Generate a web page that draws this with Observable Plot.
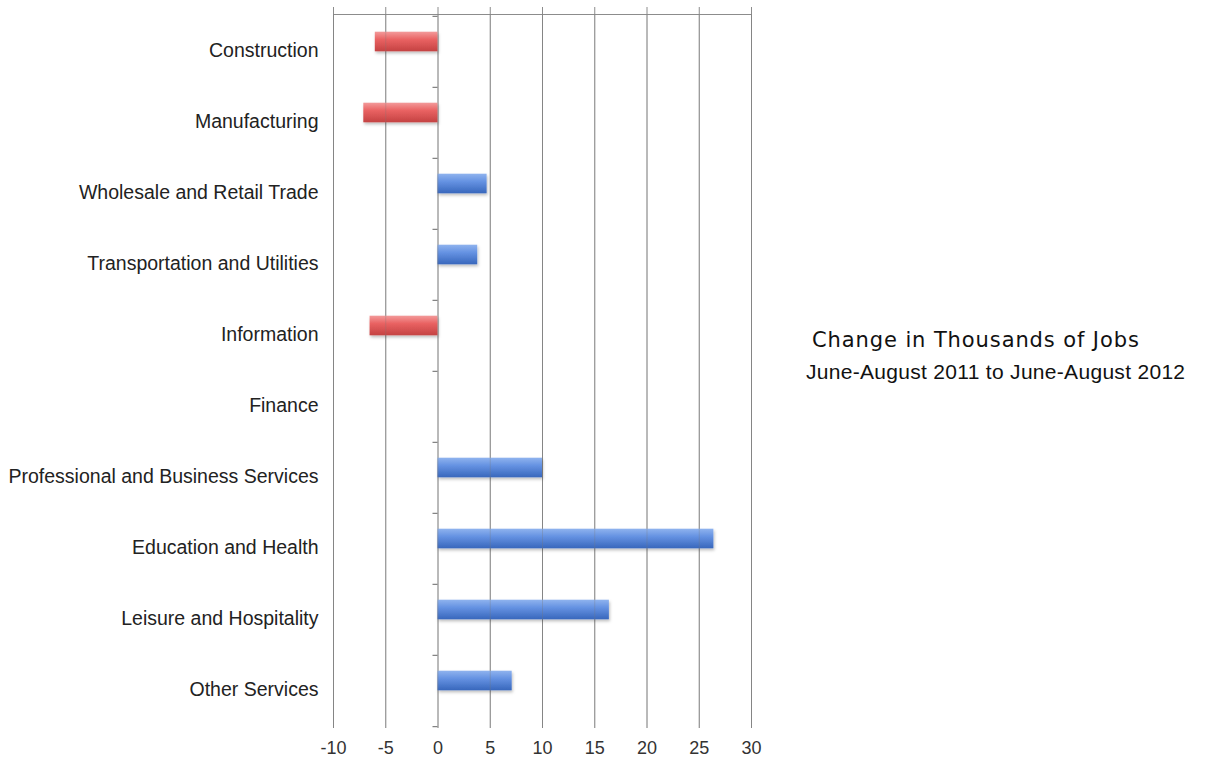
<!DOCTYPE html>
<html>
<head>
<meta charset="utf-8">
<script src="https://cdn.jsdelivr.net/npm/d3@7"></script>
<script src="https://cdn.jsdelivr.net/npm/@observablehq/plot@0.6"></script>
<style>
  html, body { margin: 0; padding: 0; background: #fff; }
  #wrap { position: relative; width: 1217px; height: 761px; }
  #t1 { position: absolute; left: 812px; top: 328px; font: 21px "DejaVu Sans", sans-serif; color: #111; white-space: nowrap; letter-spacing: 0.9px; }
  #t2 { position: absolute; left: 806px; top: 360px; font: 21px "Liberation Sans", Arial, sans-serif; color: #111; white-space: nowrap; letter-spacing: 0.3px; }
</style>
</head>
<body>
<div id="wrap">
  <div id="chart"></div>
  <div id="t1">Change in Thousands of Jobs</div>
  <div id="t2">June-August 2011 to June-August 2012</div>
</div>
<script>
const categories = [
  "Construction",
  "Manufacturing",
  "Wholesale and Retail Trade",
  "Transportation and Utilities",
  "Information",
  "Finance",
  "Professional and Business Services",
  "Education and Health",
  "Leisure and Hospitality",
  "Other Services"
];
const values = [-6.0, -7.1, 4.7, 3.8, -6.5, 0, 10.0, 26.4, 16.4, 7.1];
const xTicks = [-10, -5, 0, 5, 10, 15, 20, 25, 30];

const data = categories.map((c, i) => ({category: c, value: values[i]}));

const W = 1217, H = 761;
const mTop = 14, mBottom = 33, mLeft = 333, mRight = 466;
const bw = (H - mTop - mBottom) / categories.length;

const chart = Plot.plot({
  width: W,
  height: H,
  marginTop: mTop,
  marginBottom: mBottom,
  marginLeft: mLeft,
  marginRight: mRight,
  style: {fontFamily: "'Liberation Sans', Arial, sans-serif", background: "#fff", overflow: "visible"},
  x: {domain: [-10, 30], ticks: xTicks},
  y: {domain: categories, padding: 0},
  marks: [
    Plot.ruleX(xTicks, {stroke: "#8c8c8c", strokeWidth: 1, insetTop: -7}),
    Plot.frame({anchor: "top", stroke: "#8c8c8c", strokeWidth: 1}),
    Plot.ruleY(categories, {y: d => d, x1: 0, x2: 0, insetLeft: -5, dy: -bw / 2, stroke: "#666"}),
    Plot.ruleY([categories[categories.length - 1]], {y: d => d, x1: 0, x2: 0, insetLeft: -5, dy: bw / 2, stroke: "#666"}),
    Plot.barX(data.filter(d => d.value !== 0), {
      y: "category",
      x: "value",
      fill: d => d.value < 0 ? "url(#gradRed)" : "url(#gradBlue)",
      insetTop: bw / 2 - 20,
      insetBottom: bw / 2
    }),
    Plot.ruleX(xTicks, {stroke: "#777", strokeWidth: 1, strokeOpacity: 0.3}),
    Plot.axisX({anchor: "bottom", ticks: xTicks, tickSize: 0, tickPadding: 13, fontSize: 18, fill: "#333", label: null, tickFormat: d => d}),
    Plot.axisY({anchor: "left", tickSize: 0, tickPadding: 15, fontSize: 19.5, fill: "#222", label: null, dy: -1})
  ]
});

// gradients and shadow for bars
const svg = d3.select(chart);
const defs = svg.insert("defs", ":first-child");
const red = defs.append("linearGradient").attr("id", "gradRed").attr("x1", 0).attr("y1", 0).attr("x2", 0).attr("y2", 1);
red.append("stop").attr("offset", "0%").attr("stop-color", "#f39a9a");
red.append("stop").attr("offset", "40%").attr("stop-color", "#e96262");
red.append("stop").attr("offset", "100%").attr("stop-color", "#c44242");
const blue = defs.append("linearGradient").attr("id", "gradBlue").attr("x1", 0).attr("y1", 0).attr("x2", 0).attr("y2", 1);
blue.append("stop").attr("offset", "0%").attr("stop-color", "#8fb3ee");
blue.append("stop").attr("offset", "40%").attr("stop-color", "#6592e2");
blue.append("stop").attr("offset", "100%").attr("stop-color", "#3867bc");
const f = defs.append("filter").attr("id", "shadow").attr("x", "-10%").attr("y", "-30%").attr("width", "130%").attr("height", "180%");
f.append("feDropShadow").attr("dx", 1).attr("dy", 2).attr("stdDeviation", 1.5).attr("flood-color", "#000").attr("flood-opacity", 0.25);
svg.selectAll("g[aria-label='bar'] rect").attr("filter", "url(#shadow)");

document.getElementById("chart").appendChild(chart);
</script>
</body>
</html>
